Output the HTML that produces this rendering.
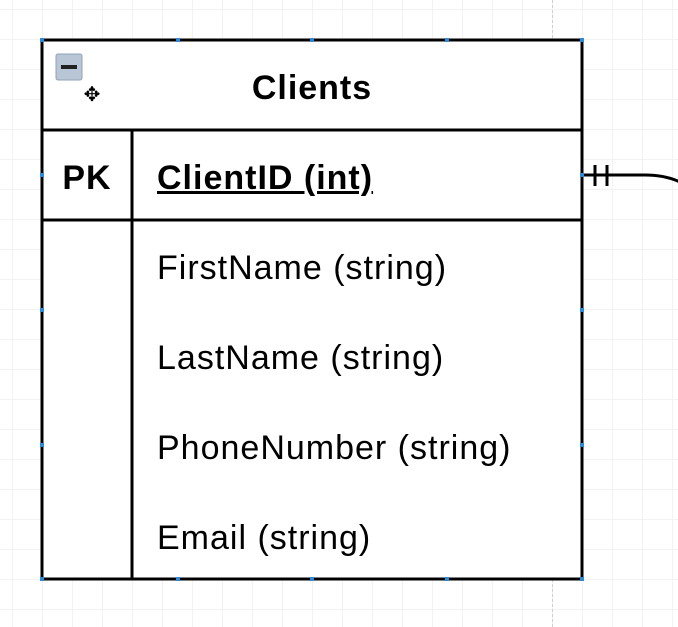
<!DOCTYPE html>
<html><head><style>
body{margin:0;width:678px;height:627px;overflow:hidden;background:#fff;font-family:"Liberation Sans",Arial,sans-serif;
background-image:linear-gradient(#f2f2f2 1px,transparent 1px),linear-gradient(90deg,#f2f2f2 1px,transparent 1px);
background-size:30px 30px;background-position:12px 9px;position:relative}
.t{position:absolute;color:#000;font-size:34px;letter-spacing:1px;line-height:40px}
</style></head><body>
<div style="position:absolute;left:552px;top:0;height:627px;border-left:1px dashed #d0d0d0"></div>
<svg width="678" height="627" style="position:absolute;left:0;top:0">
<rect x="42" y="40" width="540" height="90" fill="#fff"/>
<rect x="42" y="130" width="540" height="449" fill="#fff"/>
<g stroke="#000" stroke-width="3" fill="none">
<rect x="42" y="40" width="540" height="539"/>
<line x1="42" y1="130" x2="582" y2="130"/>
<line x1="42" y1="220" x2="582" y2="220"/>
<line x1="132" y1="130" x2="132" y2="579"/>
<path d="M582 175 H645 Q665 175 680 182"/>
<line x1="595" y1="165" x2="595" y2="186"/>
<line x1="607" y1="165" x2="607" y2="186"/>
</g>
<rect x="56" y="54" width="26" height="26" rx="2" fill="#b8c6d6" stroke="#8fa2b8"/>
<rect x="61" y="65" width="16" height="4" fill="#222"/>
<text x="92" y="101" font-size="20" text-anchor="middle" fill="#000">✥</text>
<g fill="#2a8ad8">
<rect x="40" y="38" width="4" height="4"/><rect x="176" y="38" width="4" height="4"/><rect x="310" y="38" width="4" height="4"/><rect x="445" y="38" width="4" height="4"/><rect x="580" y="38" width="4" height="4"/>
<rect x="40" y="173" width="4" height="4"/><rect x="580" y="173" width="4" height="4"/>
<rect x="40" y="308" width="4" height="4"/><rect x="580" y="308" width="4" height="4"/>
<rect x="40" y="443" width="4" height="4"/><rect x="580" y="443" width="4" height="4"/>
<rect x="40" y="577" width="4" height="4"/><rect x="176" y="577" width="4" height="4"/><rect x="310" y="577" width="4" height="4"/><rect x="445" y="577" width="4" height="4"/><rect x="580" y="577" width="4" height="4"/>
</g>
</svg>
<div class="t" style="left:42px;width:540px;top:68px;text-align:center;font-weight:bold">Clients</div>
<div class="t" style="left:42px;width:90px;top:158px;text-align:center;font-weight:bold">PK</div>
<div class="t" style="left:157px;top:158px;font-weight:bold;text-decoration:underline">ClientID (int)</div>
<div class="t" style="left:157px;top:248px">FirstName (string)</div>
<div class="t" style="left:157px;top:338px">LastName (string)</div>
<div class="t" style="left:157px;top:428px">PhoneNumber (string)</div>
<div class="t" style="left:157px;top:518px">Email (string)</div>
</body></html>
